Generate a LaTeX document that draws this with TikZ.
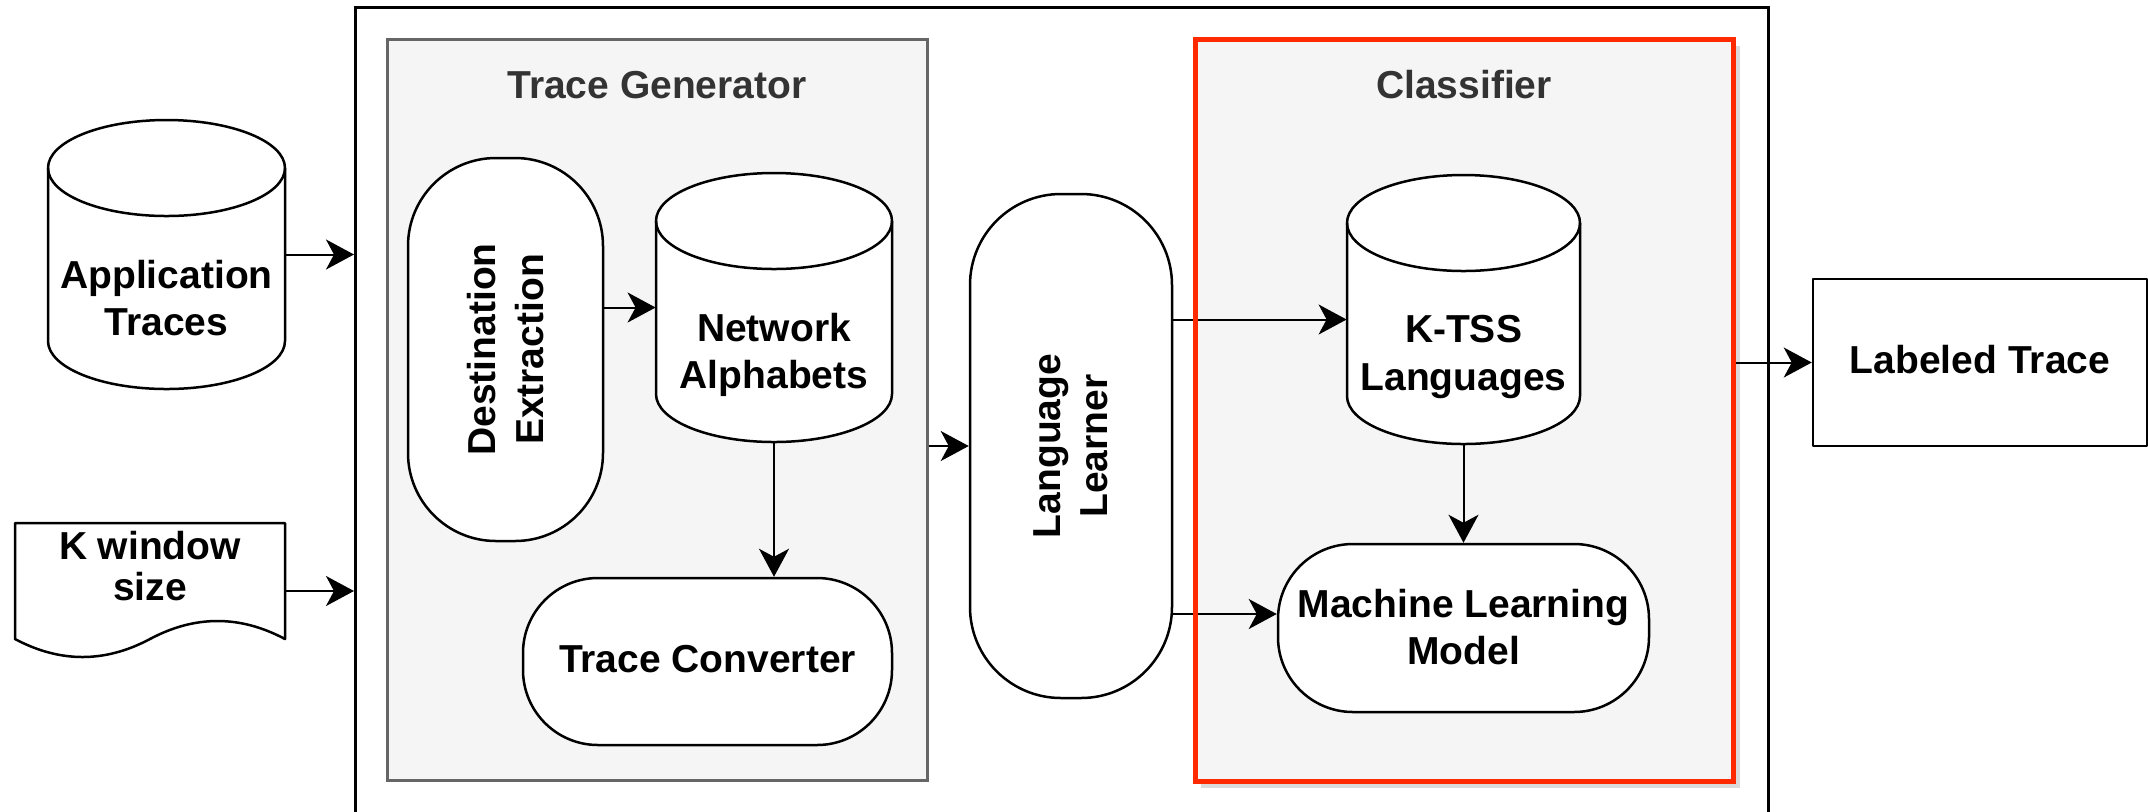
\documentclass[tikz,border=0pt]{standalone}
\usepackage{fontspec}
\setmainfont{Liberation Sans}
\usetikzlibrary{arrows.meta,calc}

\definecolor{panelfill}{HTML}{F5F5F5}
\definecolor{panelgray}{HTML}{666666}
\definecolor{titlegray}{HTML}{333333}
\definecolor{clsred}{HTML}{FF2A00}

\tikzset{
  lbl/.style={font=\fontsize{19.5}{23.75}\selectfont\bfseries, align=center, inner sep=0pt},
  shapeline/.style={draw=black, line width=1.25pt, line join=round},
  anchorbox/.style={rectangle, inner sep=0pt, draw=none},
  pill/.style={shapeline, fill=white, rectangle, inner sep=0pt, rounded corners=#1},
  flow/.style={draw=black, line width=1pt, -{Stealth[length=14pt,width=15pt,inset=4pt]}},
  panel/.style={rectangle, fill=panelfill, inner sep=0pt},
  paneltitle/.style={lbl, text=titlegray, anchor=base},
}

% database cylinder: centre x, top y, half width, height, ellipse radius
\newcommand\dbcylinder[5]{%
  \filldraw[shapeline, fill=white]
    ({#1-#3},{#2+#5}) -- ({#1-#3},{#2+#4-#5})
    .. controls ({#1-#3},{#2+#4-#5+0.5523*#5}) and ({#1-0.5523*#3},{#2+#4}) .. ({#1},{#2+#4})
    .. controls ({#1+0.5523*#3},{#2+#4}) and ({#1+#3},{#2+#4-#5+0.5523*#5}) .. ({#1+#3},{#2+#4-#5})
    -- ({#1+#3},{#2+#5})
    .. controls ({#1+#3},{#2+#5-0.5523*#5}) and ({#1+0.5523*#3},{#2}) .. ({#1},{#2})
    .. controls ({#1-0.5523*#3},{#2}) and ({#1-#3},{#2+#5-0.5523*#5}) .. ({#1-#3},{#2+#5})
    -- cycle;
  \draw[shapeline]
    ({#1-#3},{#2+#5})
    .. controls ({#1-#3},{#2+#5+0.5523*#5}) and ({#1-0.5523*#3},{#2+2*#5}) .. ({#1},{#2+2*#5})
    .. controls ({#1+0.5523*#3},{#2+2*#5}) and ({#1+#3},{#2+#5+0.5523*#5}) .. ({#1+#3},{#2+#5});
}

\begin{document}
\begin{tikzpicture}[x=0.5pt, y=-0.5pt]
\useasboundingbox (0,0) rectangle (2148,811);

% system boundary (runs off the bottom edge)
\node[anchorbox, draw=black, line width=1.5pt, anchor=north west,
      minimum width=706.5pt, minimum height=420pt] (sys) at (354,6) {};

% ---- Trace Generator panel ----
\node[panel, draw=panelgray, line width=1.5pt, minimum width=270pt, minimum height=370.5pt]
  (tg) at (657,409.5) {};
\node[paneltitle] (tgtitle) at (657,98) {Trace Generator};

% ---- Classifier panel ----
\fill[black, opacity=0.14] (1201,46) rectangle (1740,788);
\node[panel, minimum width=268.5pt, minimum height=370.5pt] (cls) at (1464.5,410.5) {};
\node[paneltitle] (clstitle) at (1464,98) {Classifier};

% ---- inputs ----
\dbcylinder{166.5}{120}{118.5}{269}{48}
\node[anchorbox, minimum width=118.5pt, minimum height=134.5pt] (app) at (166.5,254.5) {};
\node[lbl] (applbl) at (166.5,298) {Application\\Traces};

\filldraw[shapeline, fill=white]
  (15,523) -- (285,523) -- (285,639)
  .. controls (240,615) and (195,615) .. (150,639)
  .. controls (105,663) and (60,663) .. (15,639) -- cycle;
\node[anchorbox, minimum width=135pt, minimum height=58pt] (kwin) at (150,591) {};
\node[lbl, font=\fontsize{19.5}{20.5}\selectfont\bfseries] (kwinlbl) at (150,566) {K window\\size};

% ---- Trace Generator contents ----
\node[pill=44pt, minimum width=97.5pt, minimum height=191.5pt] (dest) at (505.5,349.5) {};
\node[lbl, rotate=90] (destlbl) at (505.5,349.5) {Destination\\Extraction};

\dbcylinder{774}{173}{118}{269}{48}
\node[anchorbox, minimum width=118pt, minimum height=134.5pt] (na) at (774,307.5) {};
\node[lbl] (nalbl) at (774,355) {Network\\Alphabets};

\node[pill=37.5pt, minimum width=184.5pt, minimum height=83.5pt] (tc) at (707.5,661.5) {};
\node[lbl, anchor=base] (tclbl) at (707.5,672) {Trace Converter};

% ---- Language Learner ----
\node[pill=45.5pt, minimum width=101pt, minimum height=252pt] (ll) at (1071,446) {};
\node[lbl, rotate=90] (lllbl) at (1071,446) {Language\\Learner};

% ---- Classifier contents ----
\dbcylinder{1463.5}{175}{116.5}{269}{48}
\node[anchorbox, minimum width=116.5pt, minimum height=134.5pt] (kt) at (1463.5,309.5) {};
\node[lbl] (ktlbl) at (1463.5,357) {K-TSS\\Languages};

\node[pill=37.5pt, minimum width=185.5pt, minimum height=84pt] (ml) at (1463.5,628) {};
\node[lbl] (mllbl) at (1463.5,627) {Machine Learning\\Model};

% ---- output ----
\node[shapeline, fill=white, rectangle, inner sep=0pt, minimum width=167pt, minimum height=83.5pt]
  (lt) at (1980,362.5) {};
\node[lbl, anchor=base] (ltlbl) at (1980,373) {Labeled Trace};

% ---- connectors ----
\path ($(kt.west)+(0,10)$) coordinate (ktin);
\path ($(ml.west)+(0,-14)$) coordinate (mlin);

\draw[flow] (app.east) -- (app.east -| sys.west);
\draw[flow] (kwin.east) -- (kwin.east -| sys.west);
\draw[flow] (na.west -| dest.east) -- (na.west);
\draw[flow] (na.south) -- (na.south |- tc.north);
\draw[flow] (ll.west -| tg.east) -- (ll.west);
\draw[flow] (ktin -| ll.east) -- (ktin);
\draw[flow] (mlin -| ll.east) -- (mlin);
\draw[flow] (kt.south) -- (ml.north);
\draw[flow] (lt.west -| cls.east) -- (lt.west);

% Classifier border on top of the crossing connectors
\draw[clsred, line width=2.75pt] (cls.north west) rectangle (cls.south east);
\end{tikzpicture}
\end{document}
